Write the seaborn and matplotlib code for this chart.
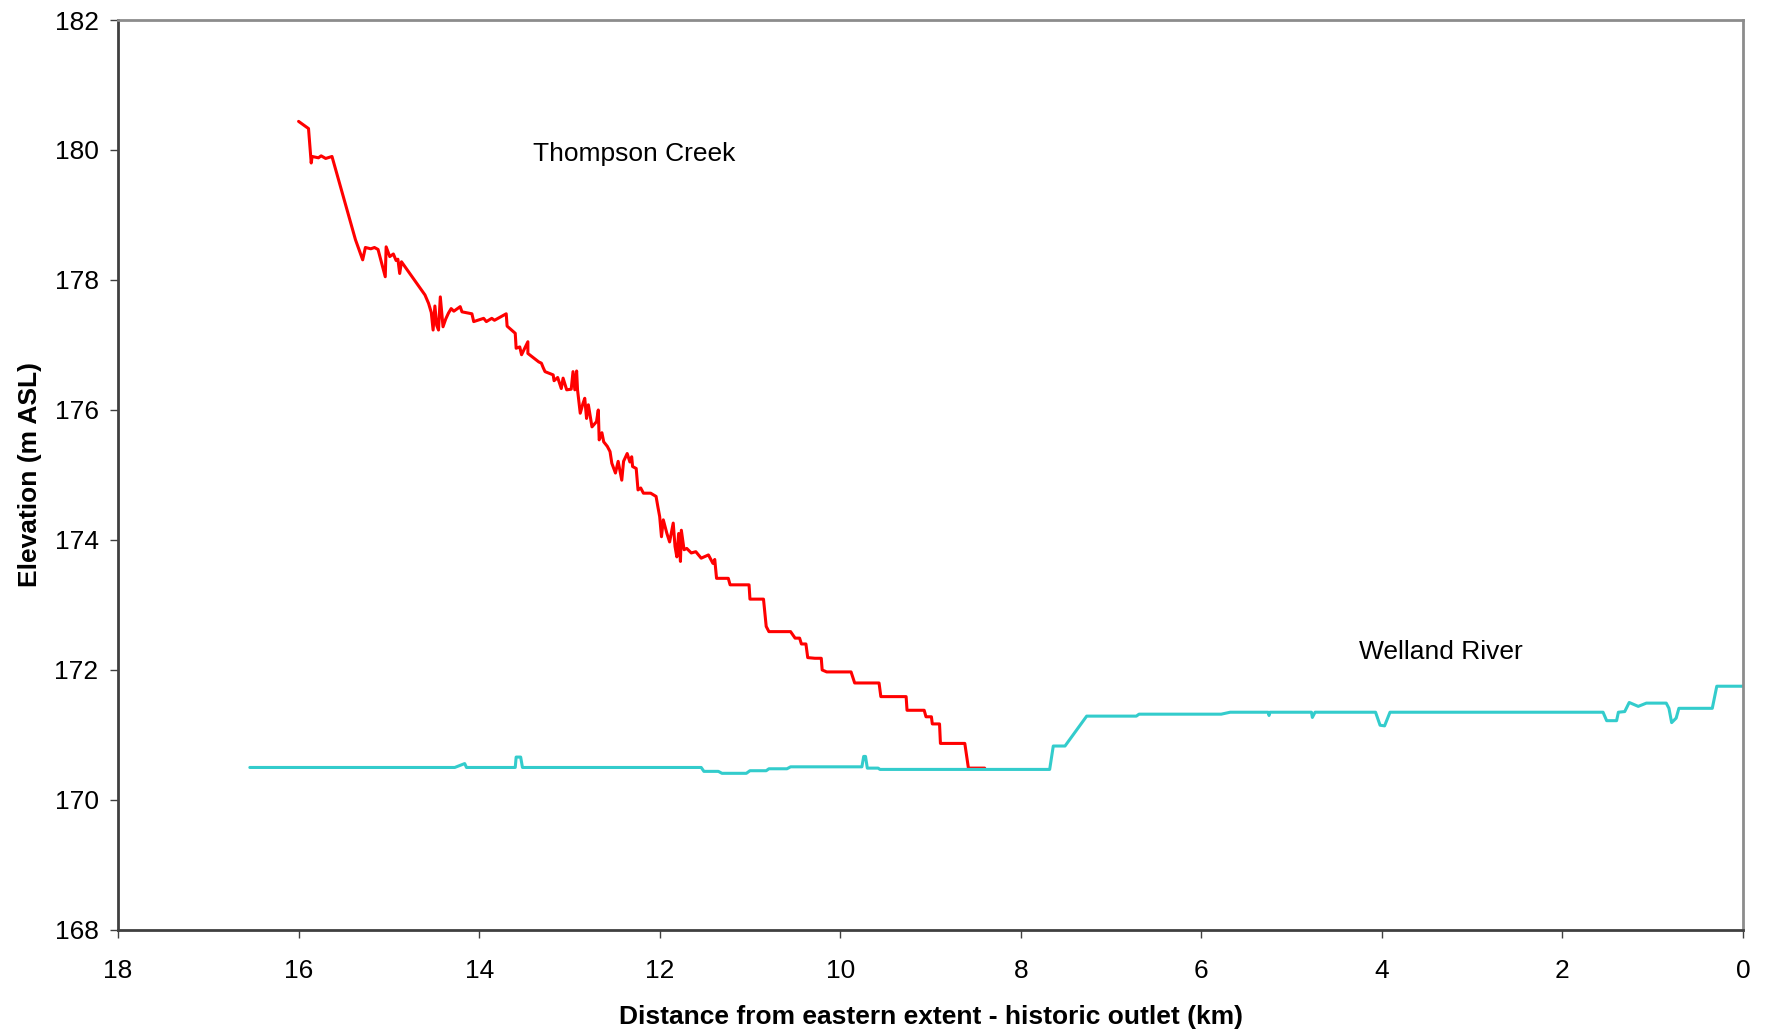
import matplotlib.pyplot as plt
import pandas as pd
import seaborn as sns

# Thompson Creek profile (distance km, elevation m ASL)
creek_km = [16.00, 15.89, 15.86, 15.85, 15.78, 15.75, 15.70, 15.63, 15.37, 15.29,
            15.26, 15.20, 15.16, 15.12, 15.04, 15.03, 14.99, 14.95, 14.92, 14.90,
            14.88, 14.86, 14.60, 14.56, 14.53, 14.51, 14.49, 14.47, 14.45, 14.43,
            14.40, 14.37, 14.34, 14.31, 14.28, 14.21, 14.19, 14.08, 14.06, 13.95,
            13.92, 13.86, 13.83, 13.70, 13.69, 13.60, 13.59, 13.55, 13.53, 13.46,
            13.46, 13.34, 13.31, 13.29, 13.27, 13.18, 13.17, 13.13, 13.09, 13.07,
            13.03, 12.98, 12.96, 12.94, 12.92, 12.91, 12.88, 12.85, 12.83, 12.81,
            12.79, 12.75, 12.70, 12.68, 12.67, 12.64, 12.62, 12.58, 12.55, 12.53,
            12.49, 12.46, 12.42, 12.40, 12.36, 12.33, 12.31, 12.30, 12.26, 12.24,
            12.21, 12.18, 12.10, 12.04, 12.02, 12.00, 11.98, 11.96, 11.92, 11.89,
            11.85, 11.83, 11.81, 11.79, 11.77, 11.76, 11.73, 11.70, 11.65, 11.60,
            11.54, 11.46, 11.41, 11.39, 11.37, 11.33, 11.24, 11.22, 11.01, 11.00,
            10.85, 10.82, 10.79, 10.55, 10.50, 10.45, 10.43, 10.38, 10.36, 10.28,
            10.21, 10.20, 10.15, 9.88, 9.84, 9.57, 9.55, 9.27, 9.26, 9.07,
            9.05, 8.99, 8.98, 8.90, 8.89, 8.62, 8.58, 8.40]
creek_elev = [180.44, 180.33, 179.80, 179.90, 179.88, 179.91, 179.87, 179.90, 178.62, 178.31,
              178.50, 178.48, 178.50, 178.47, 178.05, 178.51, 178.36, 178.40, 178.30, 178.32,
              178.10, 178.28, 177.77, 177.64, 177.50, 177.23, 177.60, 177.30, 177.23, 177.74,
              177.28, 177.40, 177.49, 177.56, 177.52, 177.59, 177.51, 177.48, 177.36, 177.41,
              177.36, 177.41, 177.38, 177.48, 177.29, 177.18, 176.95, 176.97, 176.85, 177.05,
              176.87, 176.74, 176.72, 176.65, 176.59, 176.54, 176.45, 176.50, 176.33, 176.49,
              176.31, 176.32, 176.59, 176.31, 176.60, 176.31, 175.95, 176.10, 176.18, 175.87,
              176.08, 175.74, 175.82, 176.00, 175.54, 175.65, 175.51, 175.44, 175.36, 175.18,
              175.03, 175.21, 174.92, 175.21, 175.33, 175.20, 175.28, 175.13, 175.10, 174.77,
              174.80, 174.72, 174.72, 174.67, 174.51, 174.36, 174.05, 174.31, 174.10, 173.97,
              174.26, 173.90, 173.74, 174.10, 173.67, 174.15, 173.85, 173.87, 173.80, 173.82,
              173.72, 173.77, 173.64, 173.70, 173.41, 173.41, 173.41, 173.31, 173.31, 173.09,
              173.09, 172.67, 172.59, 172.59, 172.49, 172.49, 172.40, 172.40, 172.19, 172.18,
              172.18, 172.00, 171.97, 171.97, 171.80, 171.80, 171.59, 171.59, 171.38, 171.38,
              171.28, 171.28, 171.17, 171.17, 170.87, 170.87, 170.49, 170.49]

# Welland River profile
river_km = [16.54, 14.27, 14.16, 14.14, 13.60, 13.59, 13.54, 13.52, 11.54, 11.51,
            11.35, 11.31, 11.04, 11.00, 10.82, 10.79, 10.59, 10.55, 9.76, 9.74,
            9.72, 9.70, 9.58, 9.56, 7.68, 7.64, 7.51, 7.27, 6.72, 6.69,
            5.78, 5.68, 5.26, 5.25, 5.24, 4.78, 4.77, 4.74, 4.07, 4.02,
            3.97, 3.91, 1.55, 1.51, 1.40, 1.38, 1.31, 1.26, 1.16, 1.07,
            0.85, 0.82, 0.79, 0.74, 0.71, 0.34, 0.29, 0.00]
river_elev = [170.50, 170.50, 170.56, 170.50, 170.50, 170.66, 170.66, 170.50, 170.50, 170.44,
              170.44, 170.41, 170.41, 170.45, 170.45, 170.48, 170.48, 170.51, 170.51, 170.67,
              170.67, 170.49, 170.49, 170.47, 170.47, 170.83, 170.83, 171.29, 171.29, 171.32,
              171.32, 171.35, 171.35, 171.30, 171.35, 171.35, 171.27, 171.35, 171.35, 171.15,
              171.14, 171.35, 171.35, 171.22, 171.22, 171.35, 171.36, 171.50, 171.44, 171.49,
              171.49, 171.41, 171.19, 171.26, 171.41, 171.41, 171.75, 171.75]

x_ticks = [0, 2, 4, 6, 8, 10, 12, 14, 16, 18]
y_ticks = [168, 170, 172, 174, 176, 178, 180, 182]

sns.set_style("white")
plt.rcParams['font.family'] = ['Liberation Sans', 'DejaVu Sans']
plt.rcParams['text.color'] = 'black'
plt.rcParams['axes.labelcolor'] = 'black'

fig, ax = plt.subplots(figsize=(17.67, 10.31), dpi=100)
fig.subplots_adjust(left=0.0668, right=0.9864, bottom=0.098, top=0.9806)

creek = pd.DataFrame({'km': creek_km, 'elev': creek_elev})
river = pd.DataFrame({'km': river_km, 'elev': river_elev})
sns.lineplot(data=creek, x='km', y='elev', sort=False, estimator=None,
             color='#ff0000', linewidth=2.2, ax=ax)
sns.lineplot(data=river, x='km', y='elev', sort=False, estimator=None,
             color='#33cccc', linewidth=2.2, ax=ax)

ax.set_xlim(18, 0)
ax.set_ylim(168, 182)
ax.set_xticks(x_ticks)
ax.set_yticks(y_ticks)

ax.text(13.40, 179.94, 'Thompson Creek', fontsize=19, va='center', ha='left', color='black')
ax.text(4.25, 172.27, 'Welland River', fontsize=19, va='center', ha='left', color='black')

ax.set_xlabel('Distance from eastern extent - historic outlet (km)',
              fontsize=19, fontweight='bold', labelpad=16, color='black')
ax.set_ylabel('Elevation (m ASL)', fontsize=19, fontweight='bold', labelpad=9, color='black')

ax.tick_params(axis='both', which='major', labelsize=19, direction='out',
               length=6, width=1, color='#404040', labelcolor='black')
ax.tick_params(axis='x', bottom=True, pad=15)
ax.tick_params(axis='y', left=True, pad=8)

for side in ['left', 'bottom']:
    ax.spines[side].set_color('#404040')
    ax.spines[side].set_linewidth(2)
for side in ['top', 'right']:
    ax.spines[side].set_color('#8c8c8c')
    ax.spines[side].set_linewidth(2)

plt.savefig('out.png', dpi=100)
